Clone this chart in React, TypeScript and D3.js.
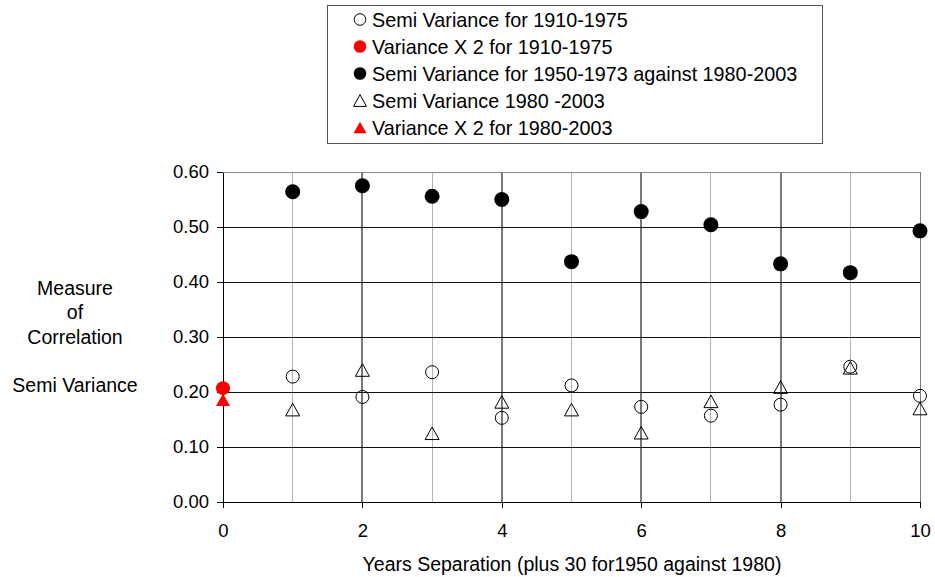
import { useEffect, useRef } from "react";
import * as d3 from "d3";

const separation = [1, 2, 3, 4, 5, 6, 7, 8, 9, 10];
const semi1950vs1980 = [0.564, 0.575, 0.556, 0.55, 0.437, 0.528, 0.504, 0.433, 0.417, 0.493];
const semi1910 = [0.228, 0.191, 0.236, 0.153, 0.212, 0.173, 0.157, 0.177, 0.246, 0.193];
const semi1980 = [0.168, 0.24, 0.125, 0.182, 0.168, 0.126, 0.183, 0.209, 0.244, 0.17];
const varX2_1910 = 0.207;
const varX2_1980 = 0.186;

const yTicks = [0, 0.1, 0.2, 0.3, 0.4, 0.5, 0.6];
const xTicks = [0, 2, 4, 6, 8, 10];

const legendItems = [
  { label: "Semi Variance for 1910-1975", shape: "circle", fill: "#fff" },
  { label: "Variance X 2 for 1910-1975", shape: "circle", fill: "#ff0000" },
  { label: "Semi Variance for 1950-1973 against 1980-2003", shape: "circle", fill: "#000" },
  { label: "Semi Variance 1980 -2003", shape: "triangle", fill: "#fff" },
  { label: "Variance X 2 for 1980-2003", shape: "triangle", fill: "#ff0000" },
];

const W = 935;
const H = 577;
const FONT = "'Liberation Sans', Arial, sans-serif";

const triPath = (s: number) => {
  const h = s * 0.9;
  return `M0,${-h / 2}L${s / 2},${h / 2}L${-s / 2},${h / 2}Z`;
};

const App = () => {
  const svgRef = useRef<SVGSVGElement>(null);

  useEffect(() => {
    document.body.style.margin = "0";
    document.body.style.overflow = "hidden";

    const svg = d3.select(svgRef.current);
    svg.selectAll("*").remove();

    const margin = { top: 172, left: 223, right: 15, bottom: 75 };
    const innerW = W - margin.left - margin.right;
    const innerH = H - margin.top - margin.bottom;

    const x = d3.scaleLinear().domain([0, 10]).range([0, innerW]);
    const y = d3.scaleLinear().domain([0, 0.6]).range([innerH, 0]);

    const g = svg.append("g").attr("transform", `translate(${margin.left},${margin.top})`);

    // vertical gridlines
    g.selectAll("line.vgrid")
      .data(d3.range(1, 11))
      .enter()
      .append("line")
      .attr("x1", (d) => x(d))
      .attr("x2", (d) => x(d))
      .attr("y1", 0)
      .attr("y2", innerH)
      .attr("stroke", (d) => (d % 2 === 0 ? "#7a7a7a" : "#b4b4b4"))
      .attr("stroke-width", (d) => (d % 2 === 0 && d !== 10 ? 2 : 1))
      .attr("shape-rendering", "crispEdges");

    // horizontal gridlines
    g.selectAll("line.hgrid")
      .data(yTicks.filter((d) => d > 0 && d < 0.6))
      .enter()
      .append("line")
      .attr("x1", 0)
      .attr("x2", innerW)
      .attr("y1", (d) => y(d))
      .attr("y2", (d) => y(d))
      .attr("stroke", "#111")
      .attr("stroke-width", 1)
      .attr("shape-rendering", "crispEdges");

    // top border
    g.append("line")
      .attr("x1", 0)
      .attr("x2", innerW)
      .attr("y1", 0)
      .attr("y2", 0)
      .attr("stroke", "#888")
      .attr("shape-rendering", "crispEdges");

    const yAxis = d3
      .axisLeft(y)
      .tickValues(yTicks)
      .tickFormat((d) => d3.format(".2f")(d as number))
      .tickSizeInner(6)
      .tickSizeOuter(0)
      .tickPadding(8);
    const ya = g.append("g").call(yAxis);
    ya.selectAll("text").attr("font-size", 18.5).attr("font-family", FONT).attr("fill", "#000");
    ya.selectAll("path, line").attr("stroke", "#000").attr("shape-rendering", "crispEdges");

    const xAxis = d3
      .axisBottom(x)
      .tickValues(xTicks)
      .tickFormat((d) => String(d))
      .tickSizeInner(6)
      .tickSizeOuter(0)
      .tickPadding(16);
    const xa = g.append("g").attr("transform", `translate(0,${innerH})`).call(xAxis);
    xa.selectAll("text").attr("font-size", 18.5).attr("font-family", FONT).attr("fill", "#000");
    xa.selectAll("path, line").attr("stroke", "#000").attr("shape-rendering", "crispEdges");

    // series: filled black circles
    g.selectAll("circle.black")
      .data(separation)
      .enter()
      .append("circle")
      .attr("cx", (d) => x(d))
      .attr("cy", (d, i) => y(semi1950vs1980[i]))
      .attr("r", 7.5)
      .attr("fill", "#000");

    // open circles
    g.selectAll("circle.open")
      .data(separation)
      .enter()
      .append("circle")
      .attr("cx", (d) => x(d))
      .attr("cy", (d, i) => y(semi1910[i]))
      .attr("r", 6.5)
      .attr("fill", "none")
      .attr("stroke", "#000")
      .attr("stroke-width", 1);

    // open triangles
    g.selectAll("path.tri")
      .data(separation)
      .enter()
      .append("path")
      .attr("d", triPath(14))
      .attr("transform", (d, i) => `translate(${x(d)},${y(semi1980[i])})`)
      .attr("fill", "none")
      .attr("stroke", "#000")
      .attr("stroke-width", 1);

    // red variance markers at 0
    g.append("path")
      .attr("d", triPath(14))
      .attr("transform", `translate(${x(0)},${y(varX2_1980)})`)
      .attr("fill", "#ff0000");
    g.append("circle")
      .attr("cx", x(0))
      .attr("cy", y(varX2_1910))
      .attr("r", 7)
      .attr("fill", "#ff0000");

    // axis titles
    svg
      .append("text")
      .attr("x", 572)
      .attr("y", 571)
      .attr("text-anchor", "middle")
      .attr("font-size", 19.5)
      .attr("font-family", FONT)
      .text("Years Separation (plus 30 for1950 against 1980)");

    const yTitle = [
      { t: "Measure", y: 295 },
      { t: "of", y: 319 },
      { t: "Correlation", y: 344 },
      { t: "Semi Variance", y: 392 },
    ];
    svg
      .selectAll("text.ytitle")
      .data(yTitle)
      .enter()
      .append("text")
      .attr("x", 75)
      .attr("y", (d) => d.y)
      .attr("text-anchor", "middle")
      .attr("font-size", 19.5)
      .attr("font-family", FONT)
      .text((d) => d.t);

    // legend
    const lg = svg.append("g").attr("transform", "translate(327,5)");
    lg.append("rect")
      .attr("x", 0.5)
      .attr("y", 0.5)
      .attr("width", 495)
      .attr("height", 138)
      .attr("fill", "#fff")
      .attr("stroke", "#555")
      .attr("stroke-width", 1);

    const rows = lg
      .selectAll("g.row")
      .data(legendItems)
      .enter()
      .append("g")
      .attr("transform", (d, i) => `translate(33,${14.5 + i * 27})`);
    rows.each(function (d) {
      const r = d3.select(this);
      if (d.shape === "circle") {
        r.append("circle")
          .attr("r", d.fill === "#fff" ? 5.8 : 6.3)
          .attr("fill", d.fill)
          .attr("stroke", d.fill === "#fff" ? "#000" : "none");
      } else {
        r.append("path")
          .attr("d", triPath(13))
          .attr("fill", d.fill)
          .attr("stroke", d.fill === "#fff" ? "#000" : "none");
      }
    });
    rows
      .append("text")
      .attr("x", 12)
      .attr("y", 7)
      .attr("font-size", 19.8)
      .attr("font-family", FONT)
      .text((d) => d.label);
  }, []);

  return <svg ref={svgRef} width={W} height={H} style={{ display: "block" }}></svg>;
};

export default App;
